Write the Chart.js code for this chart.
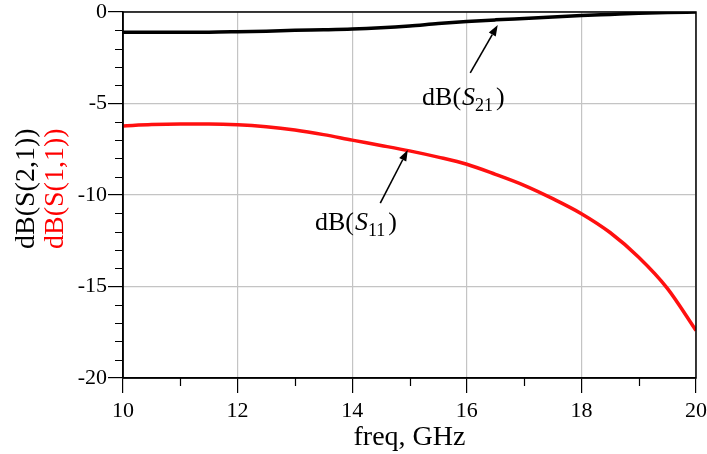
<!DOCTYPE html>
<html>
<head>
<meta charset="utf-8">
<script src="https://cdn.jsdelivr.net/npm/chart.js@4"></script>
<style>
  body { margin: 0; background: #fff; }
</style>
</head>
<body>
<canvas id="s_Chart" width="707" height="454"></canvas>
<script>
// freq points, GHz
const freq = [10, 10.5, 11, 11.5, 12, 12.5, 13, 13.5, 14, 14.5, 15, 15.5, 16, 16.5, 17, 17.5, 18, 18.5, 19, 19.5, 20];
// dB(S(2,1))
const s21 = [-1.1, -1.1, -1.1, -1.1, -1.08, -1.05, -1.0, -0.97, -0.93, -0.86, -0.76, -0.63, -0.52, -0.43, -0.35, -0.27, -0.19, -0.13, -0.07, -0.03, 0];
// dB(S(1,1))
const s11 = [-6.23, -6.15, -6.12, -6.12, -6.16, -6.27, -6.45, -6.7, -7.0, -7.29, -7.59, -7.93, -8.32, -8.87, -9.47, -10.2, -11.02, -12.05, -13.4, -15.1, -17.4];

const xTicks = [10, 12, 14, 16, 18, 20];
const yTicks = [0, -5, -10, -15, -20];

// labels with arrows, in data units: [label x, label y, tail x, tail y, head x, head y]
const note_names = ['21', '11'];
const note_pos = [
  [15.22, -5.08, 16.06, -3.33, 16.54, -0.71],
  [13.35, -11.9, 14.49, -10.44, 14.97, -7.54]
];

const serif = "'Liberation Serif', 'DejaVu Serif', serif";

function dataX(c, v) { return c.scales.x.getPixelForValue(v); }
function dataY(c, v) { return c.scales.y.getPixelForValue(v); }

const extras = {
  id: 'extras',
  afterDraw(chart) {
    const ctx = chart.ctx;
    const a = chart.chartArea;
    const xs = chart.scales.x, ys = chart.scales.y;
    ctx.save();
    // frame
    ctx.strokeStyle = '#000';
    ctx.lineWidth = 1.5;
    ctx.strokeRect(a.left, a.top, a.right - a.left, a.bottom - a.top);

    // minor ticks
    ctx.lineWidth = 1.2;
    ctx.beginPath();
    for (let v = ys.min + 1; v < ys.max; v++) {
      if (v % 5 === 0) continue;
      const py = Math.round(ys.getPixelForValue(v)) + 0.5;
      ctx.moveTo(a.left - 8, py);
      ctx.lineTo(a.left, py);
    }
    for (let v = xs.min + 1; v < xs.max; v += 2) {
      const px = Math.round(xs.getPixelForValue(v)) + 0.5;
      ctx.moveTo(px, a.bottom);
      ctx.lineTo(px, a.bottom + 8);
    }
    ctx.stroke();

    // y axis titles, two colours
    ctx.font = '28px ' + serif;
    ctx.textBaseline = 'middle';
    ctx.textAlign = 'left';
    ctx.save();
    ctx.translate(27, 249);
    ctx.rotate(-Math.PI / 2);
    ctx.fillStyle = '#000';
    ctx.fillText('dB(S(2,1))', 0, 0);
    ctx.restore();
    ctx.save();
    ctx.translate(56, 249);
    ctx.rotate(-Math.PI / 2);
    ctx.fillStyle = '#ff0000';
    ctx.fillText('dB(S(1,1))', 0, 0);
    ctx.restore();

    // notes with arrows
    ctx.fillStyle = '#000';
    ctx.strokeStyle = '#000';
    ctx.textBaseline = 'alphabetic';
    note_pos.forEach((p, i) => {
      let x = dataX(chart, p[0]);
      const y = dataY(chart, p[1]);
      ctx.font = '26px ' + serif;
      ctx.fillText('dB(', x, y);
      x += ctx.measureText('dB(').width + 1;
      ctx.font = 'italic 26px ' + serif;
      ctx.fillText('S', x, y);
      x += ctx.measureText('S').width;
      ctx.font = '18px ' + serif;
      ctx.fillText(note_names[i], x, y + 6);
      x += ctx.measureText(note_names[i]).width + 3;
      ctx.font = '26px ' + serif;
      ctx.fillText(')', x, y);

      const tx = dataX(chart, p[2]), ty = dataY(chart, p[3]);
      const hx = dataX(chart, p[4]), hy = dataY(chart, p[5]);
      const ang = Math.atan2(hy - ty, hx - tx);
      const L = 11, W = 4;
      ctx.lineWidth = 1.6;
      ctx.beginPath();
      ctx.moveTo(tx, ty);
      ctx.lineTo(hx - L * Math.cos(ang), hy - L * Math.sin(ang));
      ctx.stroke();
      ctx.beginPath();
      ctx.moveTo(hx, hy);
      ctx.lineTo(hx - L * Math.cos(ang) + W * Math.sin(ang), hy - L * Math.sin(ang) - W * Math.cos(ang));
      ctx.lineTo(hx - L * Math.cos(ang) - W * Math.sin(ang), hy - L * Math.sin(ang) + W * Math.cos(ang));
      ctx.closePath();
      ctx.fill();
    });
    ctx.restore();
  }
};

let ctx = document.getElementById('s_Chart');
let graphData = {
  type: 'line',
  data: {
    labels: freq,
    datasets: [
      {
        label: 'dB(S(2,1))',
        data: freq.map((f, i) => ({x: f, y: s21[i]})),
        borderColor: '#000000',
        backgroundColor: '#000000',
        borderWidth: 3.5,
        pointRadius: 0,
        cubicInterpolationMode: 'monotone'
      },
      {
        label: 'dB(S(1,1))',
        data: freq.map((f, i) => ({x: f, y: s11[i]})),
        borderColor: '#ff1010',
        backgroundColor: '#ff1010',
        borderWidth: 3.5,
        pointRadius: 0,
        cubicInterpolationMode: 'monotone'
      }
    ]
  },
  options: {
    responsive: false,
    animation: false,
    layout: { padding: { left: 0, right: 11, top: 12, bottom: 0 } },
    plugins: {
      legend: { display: false },
      tooltip: { enabled: false }
    },
    scales: {
      x: {
        type: 'linear',
        min: 10,
        max: 20,
        afterFit: (s) => { s.height = 76; s.paddingLeft = 0; s.paddingRight = 0; },
        afterBuildTicks: (s) => { s.ticks = xTicks.map(v => ({value: v})); },
        ticks: {
          color: '#000',
          padding: 5,
          maxRotation: 0,
          font: { family: serif, size: 22 }
        },
        grid: {
          color: '#c4c4c4',
          lineWidth: 1.2,
          tickLength: 15,
          tickColor: '#000',
          tickWidth: 1.2
        },
        border: { color: '#000', width: 1.5 },
        title: {
          display: true,
          text: 'freq, GHz',
          color: '#000',
          padding: { top: 0, bottom: 0 },
          font: { family: serif, size: 28, lineHeight: 1.2 }
        }
      },
      y: {
        min: -20,
        max: 0,
        afterFit: (s) => { s.width = 123; s.paddingTop = 0; s.paddingBottom = 0; },
        afterBuildTicks: (s) => { s.ticks = yTicks.map(v => ({value: v})); },
        ticks: {
          color: '#000',
          padding: 1,
          font: { family: serif, size: 22 }
        },
        grid: {
          color: '#c4c4c4',
          lineWidth: 1.2,
          tickLength: 15,
          tickColor: '#000',
          tickWidth: 1.2
        },
        border: { color: '#000', width: 1.5 }
      }
    }
  },
  plugins: [extras]
};

let s_Chart = new Chart(ctx, graphData);
</script>
</body>
</html>
